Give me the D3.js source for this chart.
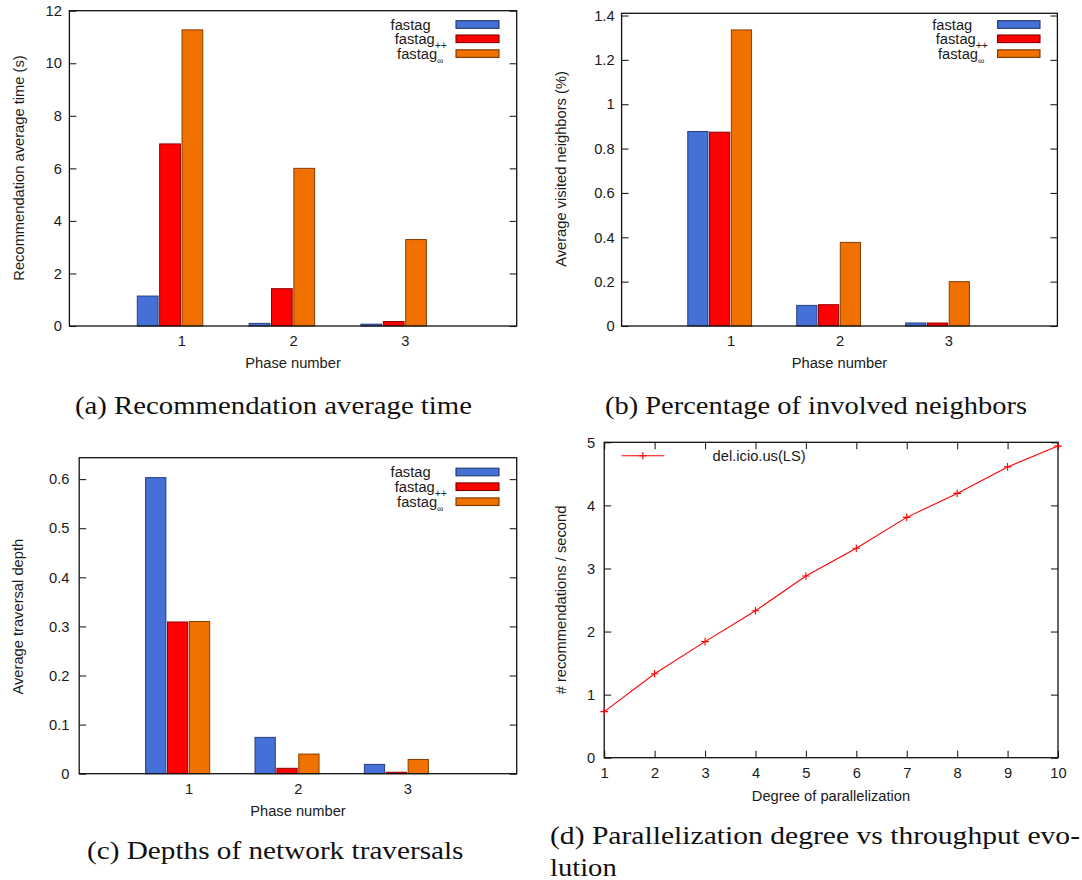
<!DOCTYPE html>
<html><head><meta charset="utf-8">
<script src="https://cdn.jsdelivr.net/npm/d3@7"></script>
<style>body{margin:0;background:#fff}svg{display:block}</style>
</head><body><svg id="c" width="1082" height="880"></svg>
<script>
// ---------- data ----------
const phases = [1, 2, 3];
const seriesNames = ["fastag", "fastag++", "fastag∞"];
const seriesColors = ["#4470d8", "#ff0000", "#f07000"];

const timeFastag = [1.14, 0.10, 0.07];
const timeFastagPP = [6.93, 1.42, 0.17];
const timeFastagInf = [11.27, 6.00, 3.29];
const timeTicks = [0, 2, 4, 6, 8, 10, 12];

const neighFastag = [0.877, 0.093, 0.0135];
const neighFastagPP = [0.874, 0.096, 0.0135];
const neighFastagInf = [1.335, 0.377, 0.200];
const neighTicks = [0, 0.2, 0.4, 0.6, 0.8, 1, 1.2, 1.4];

const depthFastag = [0.603, 0.074, 0.019];
const depthFastagPP = [0.309, 0.011, 0.003];
const depthFastagInf = [0.310, 0.040, 0.029];
const depthTicks = [0, 0.1, 0.2, 0.3, 0.4, 0.5, 0.6];

const degrees = [1, 2, 3, 4, 5, 6, 7, 8, 9, 10];
const throughput = [0.73, 1.33, 1.84, 2.33, 2.88, 3.32, 3.81, 4.19, 4.61, 4.94];
const throughputTicks = [0, 1, 2, 3, 4, 5];
const lineSeriesName = "del.icio.us(LS)";

const captions = [
  "(a) Recommendation average time",
  "(b) Percentage of involved neighbors",
  "(c) Depths of network traversals",
  "(d) Parallelization degree vs throughput evo-",
  "lution"
];

// ---------- drawing ----------
const svg = d3.select("#c");
svg.append("rect").attr("width", 1082).attr("height", 880).attr("fill", "#fff");
const FONT = "'Liberation Sans', Arial, Helvetica, sans-serif";
const FS = 14.7;
const TXT = "#1a1a1a";
const fmt = d3.format("~g");

function styleAxis(sel) {
  sel.select(".domain").remove();
  sel.selectAll("line").attr("stroke", "#222").attr("stroke-width", 1.1);
  sel.selectAll("text").attr("font-family", FONT).attr("font-size", FS).attr("fill", TXT);
}

function legendLabel(g, name, xEnd, yc) {
  const t = g.append("text").attr("x", xEnd).attr("y", yc).attr("dy", "0.35em")
    .attr("text-anchor", "end").attr("font-family", FONT).attr("font-size", FS).attr("fill", TXT);
  if (name.endsWith("++")) {
    t.append("tspan").text(name.slice(0, -2));
    t.append("tspan").attr("dy", 5).attr("font-size", 10.5).text("++");
  } else if (name.endsWith("∞")) {
    t.append("tspan").text(name.slice(0, -1));
    t.append("tspan").attr("dy", 5).attr("font-size", 9).text("∞");
  } else {
    t.text(name);
  }
}

function barPanel(cfg) {
  const g = svg.append("g");
  const x = d3.scaleLinear().domain([0, 4]).range([cfg.left, cfg.right]);
  const y = d3.scaleLinear().domain([0, cfg.yMax]).range([cfg.bottom, cfg.top]);
  const bw = 0.2;

  cfg.series.forEach((vals, si) => {
    const col = d3.color(seriesColors[si]);
    g.append("g").selectAll("rect").data(phases.map((p, i) => ({p, v: vals[i]})))
      .join("rect")
      .attr("x", d => x(d.p + (si - 2) * bw) + 0.8)
      .attr("width", d => x(d.p + (si - 1) * bw) - x(d.p + (si - 2) * bw) - 1.6)
      .attr("y", d => y(d.v))
      .attr("height", d => y(0) - y(d.v))
      .attr("fill", col)
      .attr("stroke", col.darker(1.6))
      .attr("stroke-width", 1);
  });

  const la = g.append("g").attr("transform", `translate(${cfg.left},0)`)
    .call(d3.axisLeft(y).tickValues(cfg.yTicks).tickSize(-7).tickPadding(cfg.yPad).tickFormat(fmt));
  styleAxis(la);
  const ra = g.append("g").attr("transform", `translate(${cfg.right},0)`)
    .call(d3.axisRight(y).tickValues(cfg.yTicks).tickSize(-7).tickFormat(""));
  styleAxis(ra);
  const ba = g.append("g").attr("transform", `translate(0,${cfg.bottom})`)
    .call(d3.axisBottom(x).tickValues(phases).tickSize(0).tickPadding(cfg.xPad).tickFormat(d3.format("d")));
  styleAxis(ba);

  g.append("rect").attr("x", cfg.left).attr("y", cfg.top)
    .attr("width", cfg.right - cfg.left).attr("height", cfg.bottom - cfg.top)
    .attr("fill", "none").attr("stroke", "#111").attr("stroke-width", 1.3);

  g.append("text").attr("transform", `translate(${cfg.yLabX},${cfg.yLabY}) rotate(-90)`)
    .attr("dy", "0.35em").attr("text-anchor", "middle")
    .attr("font-family", FONT).attr("font-size", FS).attr("fill", TXT).text(cfg.yLabel);
  g.append("text").attr("x", x(2)).attr("y", cfg.xLabY).attr("dy", "0.35em")
    .attr("text-anchor", "middle").attr("font-family", FONT).attr("font-size", FS)
    .attr("fill", TXT).text("Phase number");

  seriesNames.forEach((n, si) => {
    const yc = cfg.legY[si];
    legendLabel(g, n, cfg.legEnd[si], yc);
    const col = d3.color(seriesColors[si]);
    g.append("rect").attr("x", cfg.swX0).attr("y", yc - 3.8)
      .attr("width", cfg.swX1 - cfg.swX0).attr("height", 7.6)
      .attr("fill", col).attr("stroke", col.darker(2)).attr("stroke-width", 1.1);
  });
}

barPanel({
  left: 69.4, right: 516.7, top: 10.7, bottom: 326, yMax: 12, yTicks: timeTicks,
  series: [timeFastag, timeFastagPP, timeFastagInf], yPad: 7.6, xPad: 9.6,
  yLabel: "Recommendation average time (s)", yLabX: 19, yLabY: 168, xLabY: 363,
  legY: [24.5, 38.8, 53.6], legEnd: [430.6, 447, 443.5], swX0: 456, swX1: 499
});
barPanel({
  left: 621.6, right: 1057.4, top: 13.3, bottom: 326, yMax: 1.41, yTicks: neighTicks,
  series: [neighFastag, neighFastagPP, neighFastagInf], yPad: 7, xPad: 9.6,
  yLabel: "Average visited neighbors (%)", yLabX: 561, yLabY: 169, xLabY: 363,
  legY: [24.5, 38.8, 53.6], legEnd: [972.3, 988, 984.4], swX0: 997.6, swX1: 1040
});
barPanel({
  left: 79.2, right: 516.7, top: 457.7, bottom: 773.7, yMax: 0.6436, yTicks: depthTicks,
  series: [depthFastag, depthFastagPP, depthFastagInf], yPad: 9.8, xPad: 10.2,
  yLabel: "Average traversal depth", yLabX: 18, yLabY: 616.7, xLabY: 811,
  legY: [472, 486.7, 501.7], legEnd: [430.6, 447, 443.5], swX0: 456, swX1: 499
});

// ---------- line panel (d) ----------
(function () {
  const L = 604.2, R = 1058, T = 442.3, B = 757.7;
  const g = svg.append("g");
  const x = d3.scaleLinear().domain([1, 10]).range([L, R]);
  const y = d3.scaleLinear().domain([0, 5]).range([B, T]);

  const la = g.append("g").attr("transform", `translate(${L},0)`)
    .call(d3.axisLeft(y).tickValues(throughputTicks).tickSize(-7).tickPadding(9).tickFormat(d3.format("d")));
  styleAxis(la);
  const ra = g.append("g").attr("transform", `translate(${R},0)`)
    .call(d3.axisRight(y).tickValues(throughputTicks).tickSize(-7).tickFormat(""));
  styleAxis(ra);
  const ba = g.append("g").attr("transform", `translate(0,${B})`)
    .call(d3.axisBottom(x).tickValues(degrees).tickSize(-7).tickPadding(10).tickFormat(d3.format("d")));
  styleAxis(ba);
  const ta = g.append("g").attr("transform", `translate(0,${T})`)
    .call(d3.axisTop(x).tickValues(degrees).tickSize(-7).tickFormat(""));
  styleAxis(ta);

  g.append("rect").attr("x", L).attr("y", T).attr("width", R - L).attr("height", B - T)
    .attr("fill", "none").attr("stroke", "#111").attr("stroke-width", 1.3);

  const pts = degrees.map((d, i) => [d, throughput[i]]);
  g.append("path").datum(pts)
    .attr("d", d3.line().x(d => x(d[0])).y(d => y(d[1])))
    .attr("fill", "none").attr("stroke", "#ff0000").attr("stroke-width", 1.1);
  g.append("g").selectAll("path").data(pts).join("path")
    .attr("d", d => `M${x(d[0]) - 3.8},${y(d[1])}H${x(d[0]) + 3.8}M${x(d[0])},${y(d[1]) - 3.8}V${y(d[1]) + 3.8}`)
    .attr("stroke", "#ff0000").attr("stroke-width", 1.1).attr("fill", "none");

  g.append("line").attr("x1", 621.6).attr("x2", 664.3).attr("y1", 455.7).attr("y2", 455.7)
    .attr("stroke", "#ff0000").attr("stroke-width", 1.1);
  g.append("path").attr("d", `M${642.8 - 3.8},455.7H${642.8 + 3.8}M642.8,${455.7 - 3.8}V${455.7 + 3.8}`)
    .attr("stroke", "#ff0000").attr("stroke-width", 1.1);
  g.append("text").attr("x", 712.6).attr("y", 456).attr("dy", "0.35em")
    .attr("font-family", FONT).attr("font-size", FS).attr("fill", TXT).text(lineSeriesName);

  g.append("text").attr("transform", `translate(561,600) rotate(-90)`)
    .attr("dy", "0.35em").attr("text-anchor", "middle")
    .attr("font-family", FONT).attr("font-size", FS).attr("fill", TXT).text("# recommendations / second");
  g.append("text").attr("x", 831).attr("y", 795.7).attr("dy", "0.35em")
    .attr("text-anchor", "middle").attr("font-family", FONT).attr("font-size", FS)
    .attr("fill", TXT).text("Degree of parallelization");
})();

// ---------- captions ----------
const capPos = [
  {x: 75, y: 414, w: 397},
  {x: 605, y: 414, w: 422},
  {x: 87, y: 859, w: 376.5},
  {x: 550, y: 844, w: 530},
  {x: 550, y: 876, w: 66.7}
];
captions.forEach((c, i) => {
  const p = capPos[i];
  svg.append("text").attr("x", p.x).attr("y", p.y)
    .attr("font-family", "'Liberation Serif', 'Times New Roman', serif")
    .attr("font-size", 24.5).attr("fill", "#111")
    .attr("textLength", p.w).attr("lengthAdjust", "spacingAndGlyphs")
    .text(c);
});
</script>
</body></html>
